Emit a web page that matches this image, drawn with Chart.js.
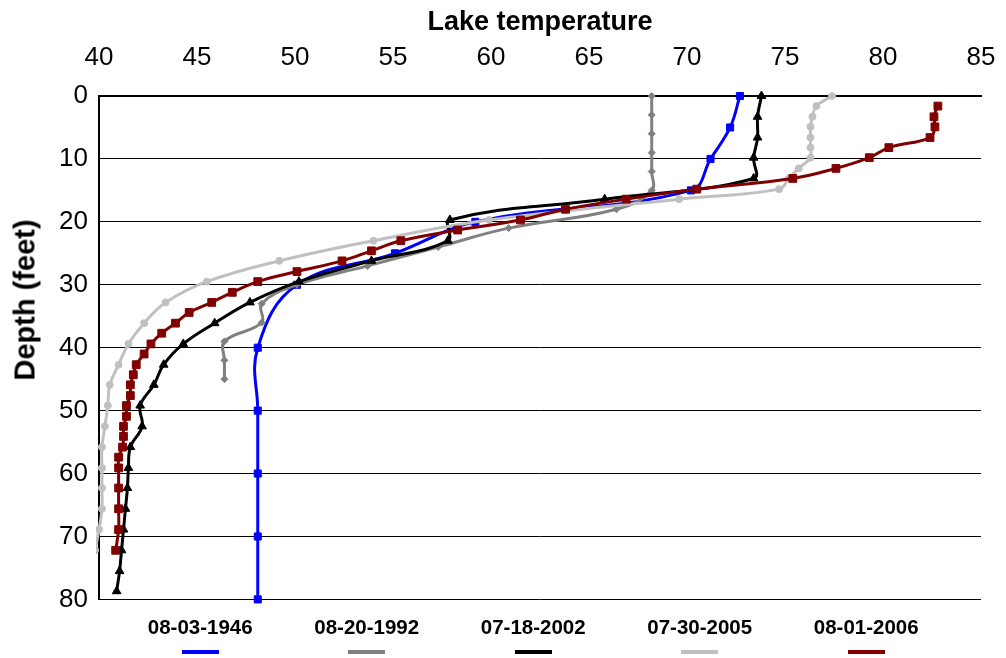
<!DOCTYPE html>
<html>
<head>
<meta charset="utf-8">
<script src="https://cdn.jsdelivr.net/npm/chart.js@4.4.1/dist/chart.umd.min.js"></script>
<style>
    body { margin: 0; background: #fff; overflow: hidden; font-family: Arial, "Liberation Sans", sans-serif; }
    #wrap { position: relative; width: 1006px; height: 658px; }
    #box { position: absolute; left: 0; top: 0; width: 1006px; height: 618px; }
    #yTitle {
        position: absolute; left: 25px; top: 300px;
        transform: translate(-50%, -50%) rotate(-90deg);
        font-weight: bold; font-size: 29px; white-space: nowrap; color: #000;
    }
    #legend { position: absolute; left: 117px; top: 614px; display: flex; }
    .item { width: 166.5px; text-align: center; }
    .item span { display: block; font-weight: bold; font-size: 20.5px; line-height: 26px; color: #000; }
    .item i { display: block; width: 37px; height: 4px; margin: 10px auto 0; }
</style>
</head>
<body>
<div id="wrap">
    <div id="box"><canvas id="lakeChart"></canvas></div>
    <div id="yTitle">Depth (feet)</div>
    <div id="legend"></div>
</div>
<script>
// survey dates
const seriesNames = ["08-03-1946", "08-20-1992", "07-18-2002", "07-30-2005", "08-01-2006"];
const seriesColors = ["#0000ff", "#808080", "#000000", "#c0c0c0", "#800000"];
const seriesMarkers = ["rect", "rectRot", "triangle", "circle", "rect"];

// depth (feet) / temperature (F) readings per survey
const depths1946 = [0, 5, 10, 15, 20, 25, 30, 40, 50, 60, 70, 80];
const temps1946 = [72.7, 72.2, 71.2, 70.2, 59.2, 55.1, 50.1, 48.1, 48.1, 48.1, 48.1, 48.1];

const depths1992 = [0, 3, 6, 9, 12, 15, 18, 21, 24, 27, 30, 33, 36, 39, 42, 45];
const temps1992 = [68.2, 68.2, 68.2, 68.2, 68.2, 68.2, 66.4, 60.9, 57.3, 53.7, 50.1, 48.3, 48.3, 46.4, 46.4, 46.4];

const depths2002 = [0, 3.3, 6.6, 9.8, 13.1, 16.4, 19.7, 23, 26.2, 29.5, 32.8, 36.1, 39.4, 42.7, 45.9, 49.2, 52.5,
    55.8, 59.1, 62.3, 65.6, 68.9, 72.2, 75.5, 78.7];
const temps2002 = [73.8, 73.6, 73.6, 73.4, 73.4, 65.8, 57.9, 57.8, 53.9, 50.2, 47.7, 45.9, 44.3, 43.3, 42.8, 42.1, 42.2,
    41.6, 41.5, 41.45, 41.35, 41.25, 41.15, 41.05, 40.9];

const depths2005 = [0, 1.6, 3.3, 4.9, 6.6, 8.2, 9.8, 11.5, 13.1, 14.8, 16.4, 19.7, 23, 26.2, 29.5, 32.8, 36.1, 39.4,
    42.7, 45.9, 49.2, 52.5, 55.8, 59.1, 62.3, 65.6, 68.9, 72.2];
const temps2005 = [77.4, 76.6, 76.4, 76.3, 76.3, 76.3, 76.3, 75.7, 75.2, 74.7, 69.6, 59.9, 54.0, 49.2, 45.5, 43.4, 42.3, 41.5,
    41.0, 40.55, 40.45, 40.3, 40.15, 40.15, 40.15, 40.15, 40.0, 39.8];

const depths2006 = [1.6, 3.3, 4.9, 6.6, 8.2, 9.8, 11.5, 13.1, 14.8, 16.4, 18, 19.7, 21.3, 23, 24.6, 26.2, 27.9, 29.5,
    31.2, 32.8, 34.4, 36.1, 37.7, 39.4, 41, 42.7, 44.3, 45.9, 47.6, 49.2, 50.9, 52.5, 54.1, 55.8, 57.4, 59.1,
    62.3, 65.6, 68.9, 72.2];
const temps2006 = [82.8, 82.6, 82.65, 82.4, 80.3, 79.3, 77.6, 75.4, 70.5, 66.9, 63.8, 61.5, 58.3, 55.4, 53.9, 52.4, 50.1, 48.1,
    46.8, 45.75, 44.6, 43.9, 43.2, 42.65, 42.3, 41.9, 41.75, 41.6, 41.6, 41.4, 41.4, 41.25, 41.25, 41.2, 41.0, 41.0,
    41.0, 41.0, 41.0, 40.85];

// axis ticks
const tempTicks = [40, 45, 50, 55, 60, 65, 70, 75, 80, 85];
const depthTicks = [0, 10, 20, 30, 40, 50, 60, 70, 80];

const allDepths = [depths1946, depths1992, depths2002, depths2005, depths2006];
const allTemps = [temps1946, temps1992, temps2002, temps2005, temps2006];
const markerSizes = [5, 3.5, 5, 3.5, 5.5];

let datasets = seriesNames.map((name, i) => ({
    label: name,
    data: allDepths[i].map((d, k) => ({ x: allTemps[i][k], y: d })),
    showLine: true,
    borderColor: seriesColors[i],
    backgroundColor: seriesColors[i],
    borderWidth: 3,
    tension: 0.4,
    pointStyle: seriesMarkers[i],
    pointRadius: markerSizes[i],
    pointBorderWidth: 1,
    order: seriesNames.length - i,
    clip: { left: 3, top: 10, right: 10, bottom: 10 }
}));

new Chart(document.getElementById("lakeChart"), {
    type: "scatter",
    data: { datasets: datasets },
    options: {
        responsive: true,
        maintainAspectRatio: false,
        animation: false,
        layout: { padding: { left: 0, top: 0, right: 25, bottom: 0 } },
        plugins: { legend: { display: false }, tooltip: { enabled: false } },
        scales: {
            x: {
                type: "linear",
                position: "top",
                min: tempTicks[0],
                max: tempTicks[tempTicks.length - 1],
                afterBuildTicks: s => { s.ticks = tempTicks.map(v => ({ value: v })); },
                afterFit: s => { s.height = 96; },
                grid: { display: false, drawTicks: true, tickLength: 20 },
                border: { display: true, color: "#000", width: 2 },
                ticks: { color: "#000", padding: 3, font: { family: "Arial, 'Liberation Sans'", size: 26 } },
                title: {
                    display: true,
                    text: "Lake temperature",
                    color: "#000",
                    padding: { top: 6, bottom: 0 },
                    font: { family: "Arial, 'Liberation Sans'", size: 27, weight: "bold" }
                }
            },
            y: {
                type: "linear",
                reverse: true,
                min: depthTicks[0],
                max: depthTicks[depthTicks.length - 1],
                afterBuildTicks: s => { s.ticks = depthTicks.map(v => ({ value: v })); },
                afterFit: s => { s.width = 99; },
                grid: {
                    color: "#000",
                    lineWidth: c => (c.tick && c.tick.value === 0 ? 2 : 1),
                    drawTicks: true,
                    tickLength: 8,
                    tickColor: "rgba(0,0,0,0)"
                },
                border: { display: true, color: "#000", width: 2 },
                ticks: { color: "#000", padding: 3, font: { family: "Arial, 'Liberation Sans'", size: 26 } }
            }
        }
    }
});

// legend: name above a short line sample
let legend = document.getElementById("legend");
seriesNames.forEach((name, i) => {
    legend.innerHTML += `<div class="item"><span>${name}</span><i style="background:${seriesColors[i]}"></i></div>`;
});
</script>
</body>
</html>
